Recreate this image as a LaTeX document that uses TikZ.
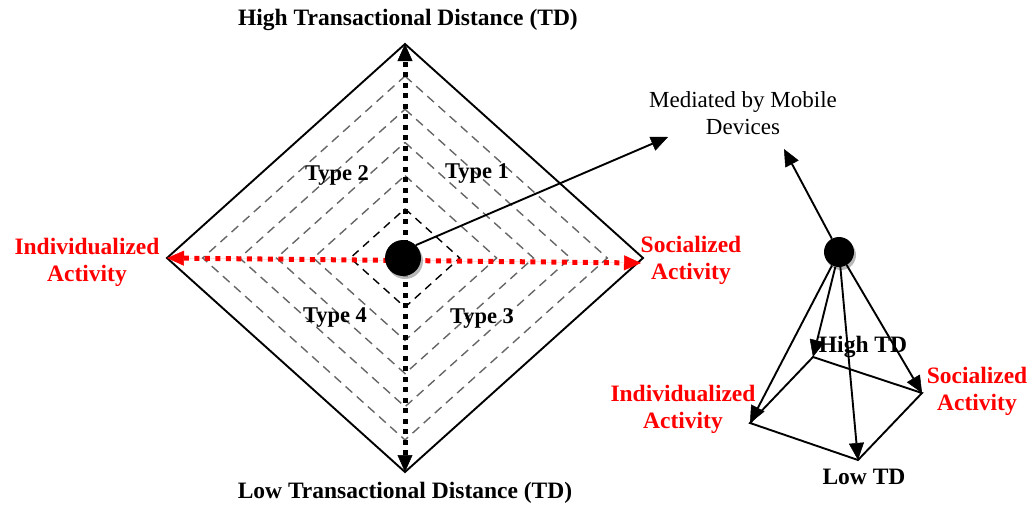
\documentclass[tikz,border=0pt]{standalone}
\usepackage{fontspec}
\setmainfont{Liberation Serif}
\usetikzlibrary{arrows.meta,shadows}

\begin{document}
\begin{tikzpicture}[x=1pt,y=-1pt,
  lbl/.style={font=\fontsize{23.5}{27}\selectfont\bfseries, align=center, inner sep=0pt},
  redlbl/.style={lbl, text=red},
  plain/.style={font=\fontsize{23}{27}\selectfont, align=center, inner sep=0pt},
  typelbl/.style={font=\fontsize{22.5}{27}\selectfont\bfseries, inner sep=0pt},
  frame/.style={line width=1.9pt, line join=miter},
  ring/.style={line width=1.4pt, dash pattern=on 9pt off 6pt, draw=black!60},
  innerring/.style={line width=1.4pt, dash pattern=on 8pt off 6pt, draw=black},
  tdaxis/.style={line width=5pt, dash pattern=on 5pt off 5.5pt,
    arrows={Triangle[length=17pt,width=15pt,line width=0.5pt]-Triangle[length=17pt,width=15pt,line width=0.5pt]}},
  actaxis/.style={tdaxis, draw=red, fill=red},
  conn/.style={line width=1.9pt, -{Triangle[length=17pt,width=15pt,line width=0.5pt]}},
  dot/.style={circle, fill=black, inner sep=0pt,
    drop shadow={shadow xshift=2pt, shadow yshift=-3pt, fill=black!35, opacity=0.8}},
]
\useasboundingbox (0,0) rectangle (1034,507);

% ---- left: transactional distance diamond ----
\coordinate (T) at (405,44);
\coordinate (B) at (405,472);
\coordinate (L) at (167,258);
\coordinate (R) at (643,258);
\coordinate (Rr) at (641,263);

% concentric grey guide diamonds
\foreach \s in {0.385,0.54,0.695,0.85}{
  \draw[ring] (405,{258-\s*214}) -- ({405+\s*238},258) -- (405,{258+\s*214})
    -- ({405-\s*238},258) -- cycle;
}
% innermost black diamond
\draw[innerring] (405,{258-0.23*214}) -- ({405+0.23*238},258) -- (405,{258+0.23*214})
  -- ({405-0.23*238},258) -- cycle;

% outer frame
\draw[frame] (T) -- (R) -- (B) -- (L) -- cycle;

% axes
\draw[tdaxis] (B) -- (T);
\draw[actaxis] (L) -- (Rr);

% central hub
\node[dot, minimum size=36pt] (hub) at (403,258) {};

% labels
\node[lbl] (hiTD) at (408,20) {High Transactional Distance (TD)};
\node[lbl] (loTD) at (405,493) {Low Transactional Distance (TD)};
\node[redlbl] (indiv) at (87,262) {Individualized\\Activity};
\node[redlbl] (social) at (691,260) {Socialized\\Activity};
\node[typelbl] (t1) at (477,173) {Type 1};
\node[typelbl] (t2) at (337,175) {Type 2};
\node[typelbl] (t3) at (482,318) {Type 3};
\node[typelbl] (t4) at (335,318) {Type 4};

% mediating devices
\node[plain] (med) at (743,113) {Mediated by Mobile\\Devices};
\coordinate (medL) at (668,137);
\coordinate (medR) at (784,149);
\draw[conn] (hub.45) -- (medL);

% ---- right: pyramid ----
\node[dot, minimum size=30pt] (apex) at (839,252) {};
\coordinate (cL) at (750,423);
\coordinate (cBk) at (813,357);
\coordinate (cR) at (922,393);
\coordinate (cBt) at (858,460);

\draw[frame] (cL) -- (cBk) -- (cR) -- (cBt) -- cycle;
\draw[conn] (apex) -- (medR);
\draw[conn] (apex) -- (cL);
\draw[conn] (apex) -- (cBk);
\draw[conn] (apex) -- (cR);
\draw[conn] (apex) -- (cBt);

\node[lbl] (pHi) at (863,347) {High TD};
\node[lbl] (pLo) at (864,477) {Low TD};
\node[redlbl] (pIndiv) at (683,409) {Individualized\\Activity};
\node[redlbl] (pSocial) at (977,391) {Socialized\\Activity};
\end{tikzpicture}
\end{document}
